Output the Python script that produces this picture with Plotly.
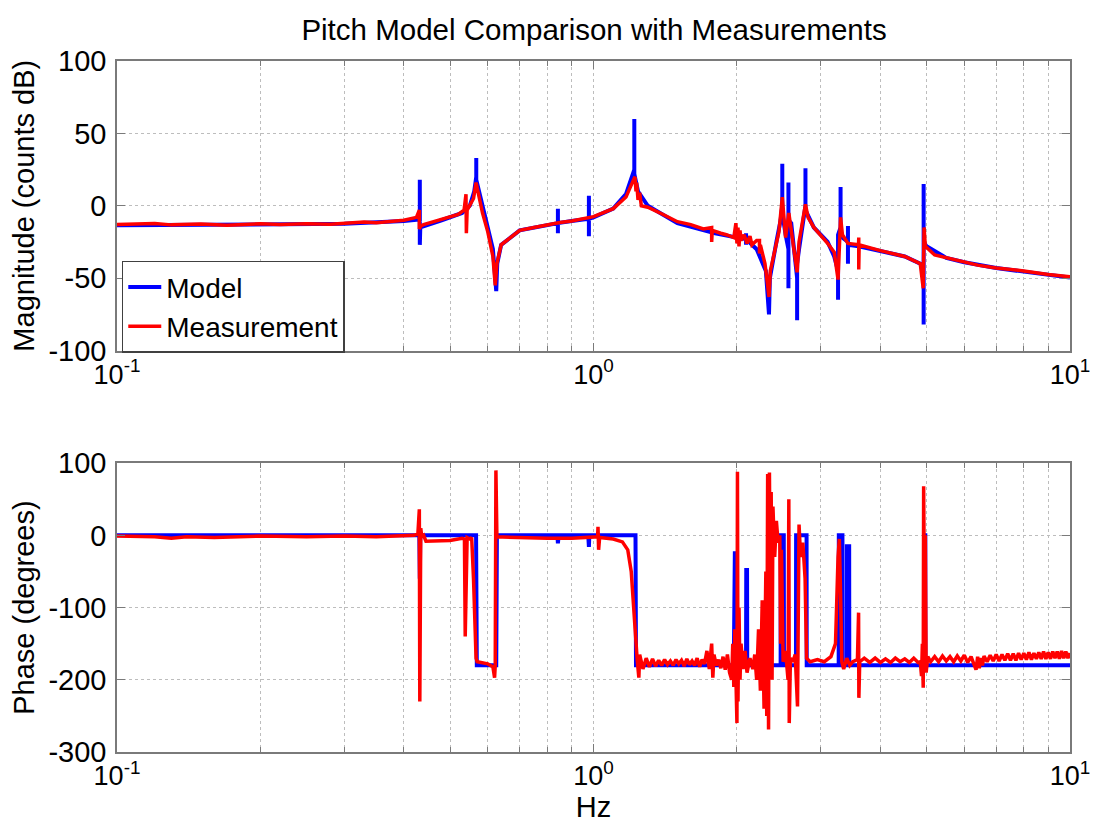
import plotly.graph_objects as go

# ---------------- data ----------------
mag_model_f = [0.1, 0.2, 0.3, 0.4, 0.432, 0.432, 0.432, 0.433, 0.48, 0.53, 0.55, 0.562, 0.5675, 0.5675, 0.5675,
               0.58, 0.6, 0.615, 0.622, 0.625, 0.628, 0.64, 0.7, 0.8, 0.842, 0.842, 0.842, 0.842, 0.9,
               0.978, 0.978, 0.978, 0.978, 1.0, 1.1, 1.17, 1.2, 1.218, 1.218, 1.218, 1.24, 1.3, 1.5, 1.8,
               2.0, 2.09, 2.09, 2.09, 2.09, 2.2, 2.3, 2.335, 2.345, 2.42, 2.47, 2.49, 2.49, 2.49, 2.53,
               2.565, 2.565, 2.565, 2.565, 2.60, 2.65, 2.675, 2.675, 2.675, 2.70, 2.76, 2.785, 2.785, 2.785,
               2.9, 3.1, 3.2, 3.26, 3.26, 3.26, 3.30, 3.30, 3.30, 3.33, 3.42, 3.42, 3.42, 3.42, 3.6, 4.0,
               4.5, 4.85, 4.93, 4.93, 4.93, 4.93, 5.0, 5.5, 6.0, 7.0, 8.0, 9.0, 10.0]
mag_model_db = [-13.5, -13, -12.5, -10.5, -9.5, 18, -27, -15, -10, -5, 0, 10, 20, 33, 18,
                5, -15, -30, -50, -59, -40, -27, -17, -13.5, -12, -2, -19, -12, -10.5,
                -9, 7, -21, -9, -8, -2, 8, 18, 25, 60, 22, 10, 0, -12, -19,
                -22, -23, -19, -27, -23, -30, -45, -75, -50, -25, -10, 0, 29, -5, -20,
                -30, -57, 16, -10, -12, -35, -50, -79, -40, -30, -10, 0, 26, -3,
                -15, -25, -35, -45, -65, -20, -15, 13, -20, -22, -25, -14, -40, -27, -28, -31,
                -35, -40, -42, -82, 15, -25, -28, -36, -39, -43, -45.5, -47.5, -49.5]

mag_meas_f = [0.1, 0.12, 0.13, 0.15, 0.17, 0.2, 0.22, 0.25, 0.28, 0.3, 0.33, 0.35, 0.38, 0.4, 0.425,
              0.431, 0.431, 0.434, 0.44, 0.46, 0.48, 0.52, 0.535, 0.54, 0.541, 0.543, 0.56, 0.567, 0.572,
              0.585, 0.6, 0.615, 0.622, 0.627, 0.64, 0.7, 0.75, 0.8, 0.85, 0.9, 1.0, 1.1, 1.17, 1.21,
              1.222, 1.228, 1.232, 1.24, 1.25, 1.26, 1.3, 1.4, 1.5, 1.6, 1.7, 1.77, 1.77, 1.775, 1.85,
              1.9, 1.97, 1.99, 2.0, 2.01, 2.02, 2.03, 2.04, 2.07, 2.1, 2.13, 2.15, 2.2, 2.23, 2.23, 2.24,
              2.29, 2.32, 2.335, 2.35, 2.40, 2.45, 2.49, 2.51, 2.53, 2.57, 2.62, 2.675, 2.70, 2.75, 2.785,
              2.82, 2.9, 3.1, 3.2, 3.26, 3.30, 3.33, 3.42, 3.6, 3.603, 3.603, 3.61, 4.0, 4.5, 4.85, 4.92,
              4.94, 4.97, 5.2, 6.0, 6.4, 7.0, 8.0, 9.0, 10.0]
mag_meas_db = [-13, -12.3, -13.2, -12.6, -13.4, -12.5, -12.9, -12.4, -12.8, -12, -11.3, -11.8, -10.8, -10, -8,
               -3, -16, -14, -13, -11, -9, -6, -3, 8, -19, -3, 5, 16, 10,
               -5, -18, -35, -55, -40, -27, -17, -15, -13, -11.5, -10.5, -7.5, -2, 6, 17,
               20, 10, 16, 4, 9, 0, -1, -6, -11, -13, -16, -15, -25, -17, -19,
               -20, -22, -12, -26, -15, -28, -17, -24, -20, -26, -21, -27, -24, -24, -33, -27,
               -40, -55, -63, -45, -30, -18, 6, -10, -22, -5, -25, -46, -25, -10, 1,
               -8, -15, -26, -32, -51, -8, -20, -26, -27, -22, -44, -27, -31, -35, -40, -57,
               -15, -28, -34, -39, -41, -43, -45, -47.5, -49]

ph_model_f = [0.1, 0.431, 0.432, 0.433, 0.567, 0.569, 0.625, 0.627, 0.84, 0.842, 0.845, 0.975, 0.978, 0.98,
              1.225, 1.228, 1.97, 1.972, 1.98, 1.982, 2.09, 2.092, 2.10, 2.102, 2.47, 2.472, 2.508, 2.51,
              2.66, 2.662, 2.80, 2.802, 3.27, 3.272, 3.33, 3.332, 3.40, 3.402, 3.44, 3.442, 4.94, 4.942,
              4.97, 4.972, 10.0]
ph_model_deg = [0, 0, -60, 0, 0, -180, -180, 0, 0, -11, 0, 0, -16, 0,
                0, -180, -180, -22, -22, -180, -180, -48, -48, -180, -180, 0, 0, -180,
                -180, 0, 0, -180, -180, 0, 0, -180, -180, -15, -15, -180, -180, 0,
                0, -180, -180]

# measured phase, read in frequency bands
ph_meas_f_low = [0.1, 0.12, 0.13, 0.14, 0.16, 0.2, 0.25, 0.3, 0.35, 0.4, 0.42, 0.428, 0.431, 0.432, 0.434,
                 0.436, 0.44, 0.445, 0.5, 0.53, 0.536, 0.538, 0.54, 0.543, 0.55, 0.555, 0.56, 0.567, 0.57,
                 0.6, 0.615, 0.62, 0.622, 0.624, 0.627, 0.7, 0.8, 0.9, 0.97, 1.02, 1.022, 1.025, 1.03, 1.1,
                 1.15, 1.18, 1.2, 1.215, 1.225, 1.235, 1.245]
ph_meas_deg_low = [-1, -2, -4, -2, -3, -1, -2, -1, -2, -1, 0, 2, 36, -230, 10,
                   -2, 0, -8, -7, -4, -5, -140, -40, -3, -5, -3, -60, -170, -175,
                   -178, -182, -197, -180, 90, -2, -3, -4, -4, -3, -2, 12, -20, -3, -5,
                   -9, -20, -50, -100, -150, -172, -197]
ph_meas_f_mid = [1.25, 1.27, 1.29, 1.31, 1.33, 1.35, 1.37, 1.39, 1.41, 1.43, 1.45, 1.47, 1.49, 1.51, 1.53,
                 1.55, 1.57, 1.59, 1.61, 1.63, 1.65, 1.67, 1.69, 1.71, 1.73, 1.75, 1.77, 1.78, 1.79, 1.81,
                 1.83, 1.85, 1.87, 1.89, 1.91, 1.93, 1.95]
ph_meas_deg_mid = [-165, -185, -170, -182, -171, -181, -173, -180, -172, -179, -174, -180, -172, -178, -173,
                   -181, -171, -179, -174, -180, -170, -182, -172, -178, -160, -185, -150, -197, -165, -180,
                   -172, -184, -168, -186, -165, -190, -200]
ph_meas_f_res = [1.96, 1.97, 1.98, 1.99, 2.0, 2.005, 2.01, 2.02, 2.03, 2.04, 2.06, 2.08, 2.1, 2.13, 2.16,
                 2.18, 2.2, 2.22, 2.24, 2.26, 2.28, 2.30, 2.31, 2.32, 2.33, 2.34, 2.35, 2.36, 2.37, 2.38,
                 2.4, 2.42, 2.44, 2.46, 2.47, 2.48, 2.50, 2.53, 2.56, 2.57, 2.575, 2.59, 2.62, 2.65, 2.68,
                 2.70, 2.72, 2.75, 2.78, 2.8, 2.85, 2.95, 3.05, 3.15, 3.22, 3.26, 3.28, 3.30, 3.32, 3.35,
                 3.40, 3.45, 3.5, 3.58, 3.60, 3.605]
ph_meas_deg_res = [-150, -210, -130, -220, -260, 88, -230, -100, -200, -150, -185, -160, -190, -170, -185,
                   -165, -200, -130, -215, -90, -240, -50, -250, 85, -269, 87, -100, 60, -200, 40,
                   -30, 20, -10, 0, -150, -20, -175, -160, -200, 50, -260, -170, -175, -165, -237,
                   15, -30, -10, -60, -170, -175, -172, -175, -168, -150, -30, -5, -80, -175, -185,
                   -170, -180, -175, -172, -107, -225]
ph_meas_f_high = [3.62, 3.7, 3.8, 3.9, 4.0, 4.1, 4.2, 4.3, 4.4, 4.5, 4.6, 4.7, 4.8, 4.85, 4.88, 4.90, 4.92,
                  4.93, 4.95, 4.97, 4.99, 5.03, 5.1, 5.2, 5.3, 5.4, 5.5, 5.6, 5.7, 5.8, 5.9, 6.0, 6.1, 6.2,
                  6.3, 6.35, 6.4, 6.45, 6.5, 6.55, 6.6, 6.7, 6.8, 6.9, 7.0, 7.1, 7.2, 7.3, 7.4, 7.5, 7.6,
                  7.7, 7.8, 7.9, 8.0, 8.1, 8.2, 8.3, 8.4, 8.5, 8.6, 8.7, 8.8, 8.9, 9.0, 9.1, 9.2, 9.3, 9.4,
                  9.5, 9.6, 9.7, 9.8, 9.9, 10.0]
ph_meas_deg_high = [-175, -170, -176, -170, -176, -171, -176, -170, -175, -171, -176, -170, -176, -175, -195,
                    -150, -211, 68, -100, 0, -190, -168, -175, -168, -175, -167, -174, -168, -175, -167,
                    -174, -166, -176, -168, -180, -186, -168, -184, -170, -180, -167, -175, -166, -174, -165,
                    -174, -165, -173, -164, -173, -164, -173, -163, -172, -163, -172, -162, -172, -163, -171,
                    -162, -171, -161, -171, -162, -171, -161, -170, -161, -171, -160, -170, -161, -170, -163]

ph_meas_f = ph_meas_f_low + ph_meas_f_mid + ph_meas_f_res + ph_meas_f_high
ph_meas_deg = ph_meas_deg_low + ph_meas_deg_mid + ph_meas_deg_res + ph_meas_deg_high

y_mag_ticks = [-100, -50, 0, 50, 100]
y_mag_text = ["-100", "-50", "0", "50", "100"]
y_ph_ticks = [-300, -200, -100, 0, 100]
y_ph_text = ["-300", "-200", "-100", "0", "100"]
x_ticks = [0.1, 1, 10]
x_ticktext = ["10<sup>-1</sup>", "10<sup>0</sup>", "10<sup>1</sup>"]
x_minor = [0.2, 0.3, 0.4, 0.5, 0.6, 0.7, 0.8, 0.9, 2, 3, 4, 5, 6, 7, 8, 9]

BLUE = "#0000ff"
RED = "#ff0000"
FONT = "Liberation Sans, Arial, sans-serif"
AX_GRAY = "#7a7a7a"
GRID = "#bdbdbd"
FS = 29

fig = go.Figure()
fig.add_trace(go.Scatter(x=mag_model_f, y=mag_model_db, mode="lines", name="Model",
                         line=dict(color=BLUE, width=4), xaxis="x", yaxis="y"))
fig.add_trace(go.Scatter(x=mag_meas_f, y=mag_meas_db, mode="lines", name="Measurement",
                         line=dict(color=RED, width=3.5), xaxis="x", yaxis="y"))
fig.add_trace(go.Scatter(x=ph_model_f, y=ph_model_deg, mode="lines", name="Model", showlegend=False,
                         line=dict(color=BLUE, width=4), xaxis="x2", yaxis="y2"))
fig.add_trace(go.Scatter(x=ph_meas_f, y=ph_meas_deg, mode="lines", name="Measurement", showlegend=False,
                         line=dict(color=RED, width=3.5), xaxis="x2", yaxis="y2"))

def xaxis_style(anchor, title=None):
    d = dict(type="log", range=[-1, 1], anchor=anchor, domain=[0, 1],
             tickvals=x_ticks, ticktext=x_ticktext, ticks="inside", ticklen=8, tickcolor=AX_GRAY,
             showline=True, linecolor=AX_GRAY, linewidth=1.5, mirror="allticks",
             showgrid=True, gridcolor=GRID, griddash="dot", gridwidth=1,
             minor=dict(tickvals=x_minor, ticks="inside", ticklen=5, tickcolor=AX_GRAY,
                        showgrid=True, gridcolor=GRID, griddash="dot", gridwidth=1),
             tickfont=dict(size=27, color="black", family=FONT), ticklabelstandoff=-1,
             zeroline=False)
    if title:
        d["title"] = dict(text=title, font=dict(size=FS, color="black", family=FONT), standoff=0)
    return d

def yaxis_style(anchor, domain, rng, ticks, text, title):
    return dict(range=rng, domain=domain, anchor=anchor, tickvals=ticks, ticktext=text,
                ticks="inside", ticklen=8, tickcolor=AX_GRAY,
                showline=True, linecolor=AX_GRAY, linewidth=1.5, mirror="allticks",
                showgrid=True, gridcolor=GRID, griddash="dot", gridwidth=1, zeroline=False,
                tickfont=dict(size=FS, color="black", family=FONT), ticklabelstandoff=3,
                title=dict(text=title, font=dict(size=FS, color="black", family=FONT), standoff=8))

# the page body adds an 8 px margin, so the figure is 8 px smaller and margins are shifted
fig.update_layout(
    width=1094, height=820,
    margin=dict(l=105, r=24, t=53, b=76),
    paper_bgcolor="white", plot_bgcolor="white",
    font=dict(family=FONT, color="black"),
    title=dict(text="Pitch Model Comparison with Measurements", x=0.5357, xanchor="center",
               y=1 - 22 / 820, yanchor="middle", font=dict(size=29.5, color="black", family=FONT)),
    xaxis=xaxis_style("y"),
    xaxis2=xaxis_style("y2", "Hz"),
    yaxis=yaxis_style("x", [0.581, 1.0], [-100, 100], y_mag_ticks, y_mag_text, "Magnitude (counts dB)"),
    yaxis2=yaxis_style("x2", [0.0, 0.418], [-300, 100], y_ph_ticks, y_ph_text, "Phase (degrees)"),
    legend=dict(x=0.005, y=0.711, xanchor="left", yanchor="top", bgcolor="white",
                bordercolor="#404040", borderwidth=1.5,
                font=dict(size=28, color="black", family=FONT), tracegroupgap=0,
                itemwidth=33),
    showlegend=True,
)

fig.write_html("out.html")
